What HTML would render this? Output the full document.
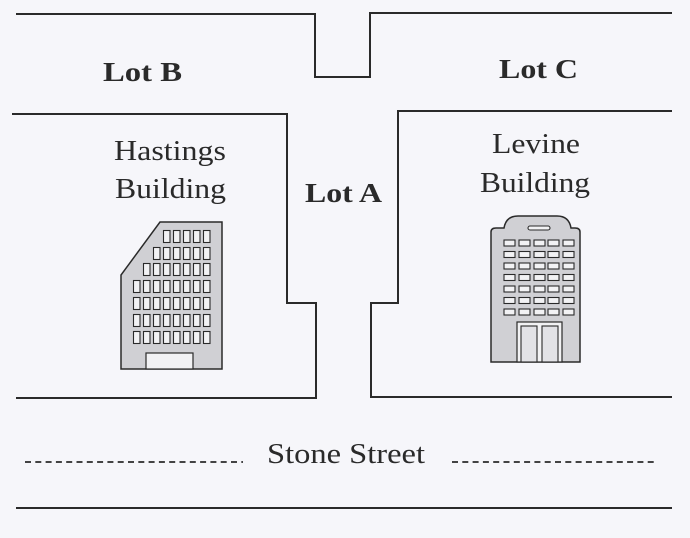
<!DOCTYPE html>
<html><head><style>
html,body{margin:0;padding:0;background:#f6f6fa;}
svg{display:block;}
text{font-family:"Liberation Serif",serif;fill:#2a2a2a;}
</style></head><body>
<svg width="690" height="538" viewBox="0 0 690 538" xmlns="http://www.w3.org/2000/svg">
<rect width="690" height="538" fill="#f6f6fa"/>
<g fill="none" stroke="#2a2a2a" stroke-width="2">
<polyline points="16,14 315,14 315,77 370,77 370,13 672,13"/>
<polyline points="12,114 287,114 287,303 316,303 316,398 16,398"/>
<polyline points="672,111 398,111 398,303 371,303 371,397 672,397"/>
<line x1="16" y1="508" x2="672" y2="508"/>
<line x1="25" y1="462" x2="243" y2="462" stroke-dasharray="6,4.3" stroke-width="1.7"/>
<line x1="452" y1="462" x2="656" y2="462" stroke-dasharray="6,4.3" stroke-width="1.7"/>
</g>
<text x="103" y="81" font-size="27" font-weight="bold" textLength="79" lengthAdjust="spacingAndGlyphs">Lot B</text>
<text x="499" y="78" font-size="27" font-weight="bold" textLength="79" lengthAdjust="spacingAndGlyphs">Lot C</text>
<text x="305" y="202" font-size="27" font-weight="bold" textLength="77" lengthAdjust="spacingAndGlyphs">Lot A</text>
<text x="114" y="160" font-size="28" textLength="112" lengthAdjust="spacingAndGlyphs">Hastings</text>
<text x="115" y="198" font-size="28" textLength="111" lengthAdjust="spacingAndGlyphs">Building</text>
<text x="492" y="153" font-size="28" textLength="88" lengthAdjust="spacingAndGlyphs">Levine</text>
<text x="480" y="192" font-size="28" textLength="110" lengthAdjust="spacingAndGlyphs">Building</text>
<text x="267" y="463" font-size="28" textLength="158" lengthAdjust="spacingAndGlyphs">Stone Street</text>
<!-- Hastings building -->
<g stroke="#2a2a2a" stroke-width="1.5">
<polygon points="160,222 222,222 222,369 121,369 121,275" fill="#d0d0d4"/>
<rect x="146" y="353" width="47" height="16" fill="#f2f2f4" stroke-width="1.2"/>
</g>
<g fill="#f2f2f4" stroke="#2a2a2a" stroke-width="1.1">
<rect x="163.5" y="230.5" width="6.5" height="12"/><rect x="173.5" y="230.5" width="6.5" height="12"/><rect x="183.5" y="230.5" width="6.5" height="12"/><rect x="193.5" y="230.5" width="6.5" height="12"/><rect x="203.5" y="230.5" width="6.5" height="12"/>
<rect x="153.5" y="247.5" width="6.5" height="12"/><rect x="163.5" y="247.5" width="6.5" height="12"/><rect x="173.5" y="247.5" width="6.5" height="12"/><rect x="183.5" y="247.5" width="6.5" height="12"/><rect x="193.5" y="247.5" width="6.5" height="12"/><rect x="203.5" y="247.5" width="6.5" height="12"/>
<rect x="143.5" y="263.5" width="6.5" height="12"/><rect x="153.5" y="263.5" width="6.5" height="12"/><rect x="163.5" y="263.5" width="6.5" height="12"/><rect x="173.5" y="263.5" width="6.5" height="12"/><rect x="183.5" y="263.5" width="6.5" height="12"/><rect x="193.5" y="263.5" width="6.5" height="12"/><rect x="203.5" y="263.5" width="6.5" height="12"/>
<rect x="133.5" y="280.5" width="6.5" height="12"/><rect x="143.5" y="280.5" width="6.5" height="12"/><rect x="153.5" y="280.5" width="6.5" height="12"/><rect x="163.5" y="280.5" width="6.5" height="12"/><rect x="173.5" y="280.5" width="6.5" height="12"/><rect x="183.5" y="280.5" width="6.5" height="12"/><rect x="193.5" y="280.5" width="6.5" height="12"/><rect x="203.5" y="280.5" width="6.5" height="12"/>
<rect x="133.5" y="297.5" width="6.5" height="12"/><rect x="143.5" y="297.5" width="6.5" height="12"/><rect x="153.5" y="297.5" width="6.5" height="12"/><rect x="163.5" y="297.5" width="6.5" height="12"/><rect x="173.5" y="297.5" width="6.5" height="12"/><rect x="183.5" y="297.5" width="6.5" height="12"/><rect x="193.5" y="297.5" width="6.5" height="12"/><rect x="203.5" y="297.5" width="6.5" height="12"/>
<rect x="133.5" y="314.5" width="6.5" height="12"/><rect x="143.5" y="314.5" width="6.5" height="12"/><rect x="153.5" y="314.5" width="6.5" height="12"/><rect x="163.5" y="314.5" width="6.5" height="12"/><rect x="173.5" y="314.5" width="6.5" height="12"/><rect x="183.5" y="314.5" width="6.5" height="12"/><rect x="193.5" y="314.5" width="6.5" height="12"/><rect x="203.5" y="314.5" width="6.5" height="12"/>
<rect x="133.5" y="331.5" width="6.5" height="12"/><rect x="143.5" y="331.5" width="6.5" height="12"/><rect x="153.5" y="331.5" width="6.5" height="12"/><rect x="163.5" y="331.5" width="6.5" height="12"/><rect x="173.5" y="331.5" width="6.5" height="12"/><rect x="183.5" y="331.5" width="6.5" height="12"/><rect x="193.5" y="331.5" width="6.5" height="12"/><rect x="203.5" y="331.5" width="6.5" height="12"/>
</g>
<!-- Levine building -->
<g stroke="#2a2a2a" stroke-width="1.5">
<path d="M491,362 L491,232 Q491,228 496,228 L504,228 Q506,216 518,216 L557,216 Q569,216 571,228 L575,228 Q580,228 580,232 L580,362 Z" fill="#d0d0d4"/>
<rect x="528" y="226" width="22" height="4" rx="2" fill="#f2f2f4" stroke-width="1.1"/>
<rect x="517" y="322" width="45" height="40" fill="#f2f2f4" stroke-width="1.2"/>
<rect x="521" y="326" width="16" height="36" fill="#e2e2e6" stroke-width="1.1"/>
<rect x="542" y="326" width="16" height="36" fill="#e2e2e6" stroke-width="1.1"/>
</g>
<g fill="#f2f2f4" stroke="#2a2a2a" stroke-width="1.1">
<rect x="504" y="240" width="11" height="6"/><rect x="519" y="240" width="11" height="6"/><rect x="534" y="240" width="11" height="6"/><rect x="548" y="240" width="11" height="6"/><rect x="563" y="240" width="11" height="6"/>
<rect x="504" y="251.5" width="11" height="6"/><rect x="519" y="251.5" width="11" height="6"/><rect x="534" y="251.5" width="11" height="6"/><rect x="548" y="251.5" width="11" height="6"/><rect x="563" y="251.5" width="11" height="6"/>
<rect x="504" y="263" width="11" height="6"/><rect x="519" y="263" width="11" height="6"/><rect x="534" y="263" width="11" height="6"/><rect x="548" y="263" width="11" height="6"/><rect x="563" y="263" width="11" height="6"/>
<rect x="504" y="274.5" width="11" height="6"/><rect x="519" y="274.5" width="11" height="6"/><rect x="534" y="274.5" width="11" height="6"/><rect x="548" y="274.5" width="11" height="6"/><rect x="563" y="274.5" width="11" height="6"/>
<rect x="504" y="286" width="11" height="6"/><rect x="519" y="286" width="11" height="6"/><rect x="534" y="286" width="11" height="6"/><rect x="548" y="286" width="11" height="6"/><rect x="563" y="286" width="11" height="6"/>
<rect x="504" y="297.5" width="11" height="6"/><rect x="519" y="297.5" width="11" height="6"/><rect x="534" y="297.5" width="11" height="6"/><rect x="548" y="297.5" width="11" height="6"/><rect x="563" y="297.5" width="11" height="6"/>
<rect x="504" y="309" width="11" height="6"/><rect x="519" y="309" width="11" height="6"/><rect x="534" y="309" width="11" height="6"/><rect x="548" y="309" width="11" height="6"/><rect x="563" y="309" width="11" height="6"/>
</g>
</svg>
</body></html>
